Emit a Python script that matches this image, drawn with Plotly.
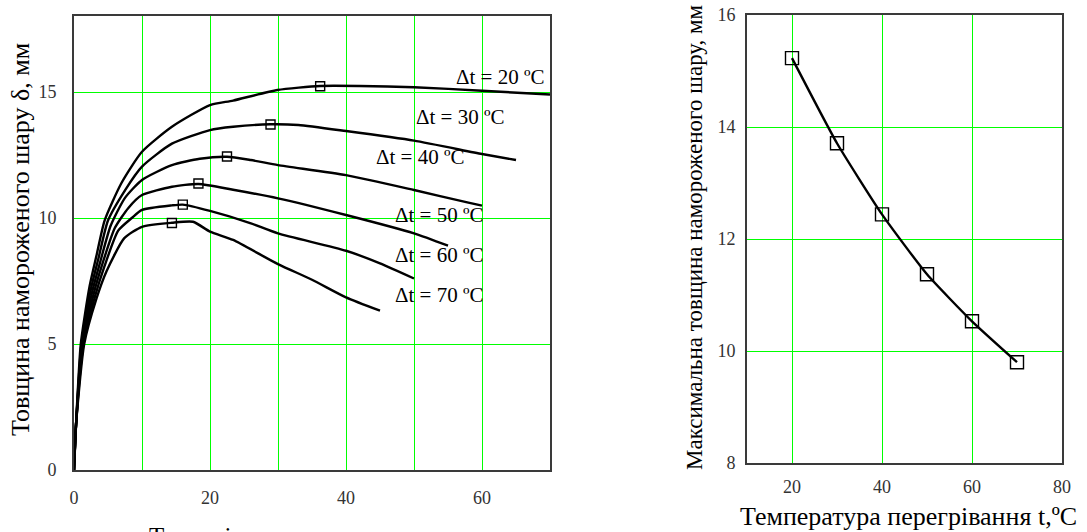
import plotly.graph_objects as go

# ---------------- data ----------------
dt_values = [20, 30, 40, 50, 60, 70]
dt_labels = ["Δt = 20 ºC", "Δt = 30 ºC", "Δt = 40 ºC", "Δt = 50 ºC", "Δt = 60 ºC", "Δt = 70 ºC"]

t_20 = [0, 0.3, 1.0, 2.3, 3.3, 4.5, 7.0, 10, 14.4, 20, 23.4, 29.9, 36.2, 42, 50, 60, 70]
d_20 = [0, 1.8, 5.0, 7.3, 8.5, 9.9, 11.4, 12.63, 13.62, 14.48, 14.66, 15.08, 15.24, 15.24, 15.19, 15.05, 14.9]

t_30 = [0, 0.3, 1.1, 2.5, 3.6, 5.0, 7.5, 10, 14.4, 20, 23.4, 28.9, 33, 40, 50, 60, 65]
d_30 = [0, 1.8, 5.0, 7.2, 8.4, 9.9, 11.1, 12.04, 12.95, 13.49, 13.62, 13.72, 13.69, 13.45, 13.07, 12.54, 12.3]

t_40 = [0, 0.3, 1.2, 2.7, 3.9, 5.4, 7.5, 10, 14.4, 18.5, 22.5, 26, 30, 40, 50, 58, 60]
d_40 = [0, 1.8, 5.0, 7.1, 8.3, 9.7, 10.8, 11.51, 12.1, 12.35, 12.43, 12.3, 12.1, 11.7, 11.11, 10.61, 10.49]

t_50 = [0, 0.3, 1.3, 2.9, 4.2, 6.0, 8.0, 10, 14.4, 18.3, 23.4, 30, 40, 50, 55]
d_50 = [0, 1.8, 5.0, 7.0, 8.2, 9.6, 10.4, 10.91, 11.24, 11.35, 11.12, 10.78, 10.12, 9.39, 8.9]

t_60 = [0, 0.3, 1.4, 3.1, 4.5, 6.5, 8.5, 10, 14.4, 16, 20, 25.9, 30, 40, 45, 50]
d_60 = [0, 1.8, 5.0, 6.9, 8.1, 9.5, 10.0, 10.32, 10.5, 10.53, 10.28, 9.8, 9.39, 8.7, 8.2, 7.6]

t_70 = [0, 0.3, 1.5, 3.3, 4.8, 7.4, 10, 14.4, 17.5, 20, 23.4, 30, 35, 40, 45]
d_70 = [0, 1.8, 5.0, 6.8, 7.9, 9.2, 9.65, 9.81, 9.85, 9.46, 9.13, 8.17, 7.55, 6.85, 6.32]

curves_t = [t_20, t_30, t_40, t_50, t_60, t_70]
curves_d = [d_20, d_30, d_40, d_50, d_60, d_70]

# time of maximum and maximum thickness for each Δt
peak_t = [36.2, 28.9, 22.5, 18.3, 16.0, 14.4]
peak_d = [15.23, 13.71, 12.44, 11.37, 10.53, 9.80]

# label anchor positions (left edge, centre) in data units
label_x = [55.9, 50.0, 44.1, 46.9, 46.9, 46.9]
label_y = [15.61, 14.02, 12.43, 10.12, 8.53, 6.94]

left_xticks = [0, 10, 20, 30, 40, 50, 60, 70]
left_xtext = ["0", "", "20", "", "40", "", "60", ""]
left_yticks = [0, 5, 10, 15]
right_xticks = [20, 40, 60, 80]
right_yticks = [8, 10, 12, 14, 16]

# ---------------- figure ----------------
W, H = 1087, 532
SERIF = "Liberation Serif, Times New Roman, serif"
GREEN = "#00FF00"
AX = "#3a3a3a"

fig = go.Figure()

for t, d in zip(curves_t, curves_d):
    fig.add_trace(go.Scatter(x=t, y=d, mode="lines", xaxis="x", yaxis="y",
                             line=dict(color="black", width=2.4, shape="spline", smoothing=0.6),
                             showlegend=False, hoverinfo="skip"))

fig.add_trace(go.Scatter(x=peak_t, y=peak_d, mode="markers", xaxis="x", yaxis="y",
                         marker=dict(symbol="square-open", size=9, color="black", line=dict(width=1.4)),
                         showlegend=False))

fig.add_trace(go.Scatter(x=dt_values, y=peak_d, mode="lines", xaxis="x2", yaxis="y2",
                         line=dict(color="black", width=2.4, shape="spline", smoothing=0.5),
                         showlegend=False))
fig.add_trace(go.Scatter(x=dt_values, y=peak_d, mode="markers", xaxis="x2", yaxis="y2",
                         marker=dict(symbol="square-open", size=13, color="black", line=dict(width=1.4)),
                         showlegend=False))

annotations = []
for lx, ly, txt in zip(label_x, label_y, dt_labels):
    annotations.append(dict(x=lx, y=ly, xref="x", yref="y", text=txt, showarrow=False,
                            xanchor="left", yanchor="middle",
                            font=dict(family=SERIF, size=21, color="black")))

annotations += [
    dict(x=20 / W, y=1 - 240 / H, xref="paper", yref="paper", textangle=-90,
         text="Товщина наморожeного шару δ, мм", showarrow=False,
         font=dict(family=SERIF, size=26, color="black"), xanchor="center", yanchor="middle"),
    dict(x=312 / W, y=1 - 521 / H, xref="paper", yref="paper",
         text="Тривалість заморожування τ, с", showarrow=False,
         font=dict(family=SERIF, size=25, color="black"), xanchor="center", yanchor="top"),
    dict(x=694 / W, y=1 - 237 / H, xref="paper", yref="paper", textangle=-90,
         text="Максимальна товщина наморожeного шару, мм", showarrow=False,
         font=dict(family=SERIF, size=23, color="black"), xanchor="center", yanchor="middle"),
    dict(x=908 / W, y=1 - 516 / H, xref="paper", yref="paper",
         text="Температура перегрівання t,ºC", showarrow=False,
         font=dict(family=SERIF, size=26, color="black"), xanchor="center", yanchor="middle"),
]

tickfont = dict(family=SERIF, size=18, color="#333333")
common = dict(showline=True, linecolor=AX, linewidth=2, mirror=True, ticks="",
              showgrid=True, gridcolor=GREEN, gridwidth=1, zeroline=False,
              tickfont=tickfont, fixedrange=True)

fig.update_layout(
    width=W, height=H,
    margin=dict(l=0, r=0, t=0, b=0, autoexpand=False),
    paper_bgcolor="white", plot_bgcolor="white",
    showlegend=False,
    xaxis=dict(domain=[74 / W, 550 / W], range=[0, 70], tickmode="array",
               tickvals=left_xticks, ticktext=left_xtext, anchor="y",
               ticklabelstandoff=10, automargin=False, **common),
    yaxis=dict(domain=[1 - 470 / H, 1 - 16.4 / H], range=[0, 18], tickmode="array",
               tickvals=left_yticks, anchor="x", ticklabelstandoff=12, automargin=False, **common),
    xaxis2=dict(domain=[747 / W, 1062 / W], range=[10, 80], tickmode="array",
                tickvals=right_xticks, anchor="y2", ticklabelstandoff=6, automargin=False, **common),
    yaxis2=dict(domain=[1 - 463 / H, 1 - 15 / H], range=[8, 16], tickmode="array",
                tickvals=right_yticks, anchor="x2", ticklabelstandoff=6, automargin=False, **common),
    annotations=annotations,
)

fig.write_html("out.html", config={"displayModeBar": False},
               post_script="document.body.style.margin='0';document.body.style.overflow='hidden';")
